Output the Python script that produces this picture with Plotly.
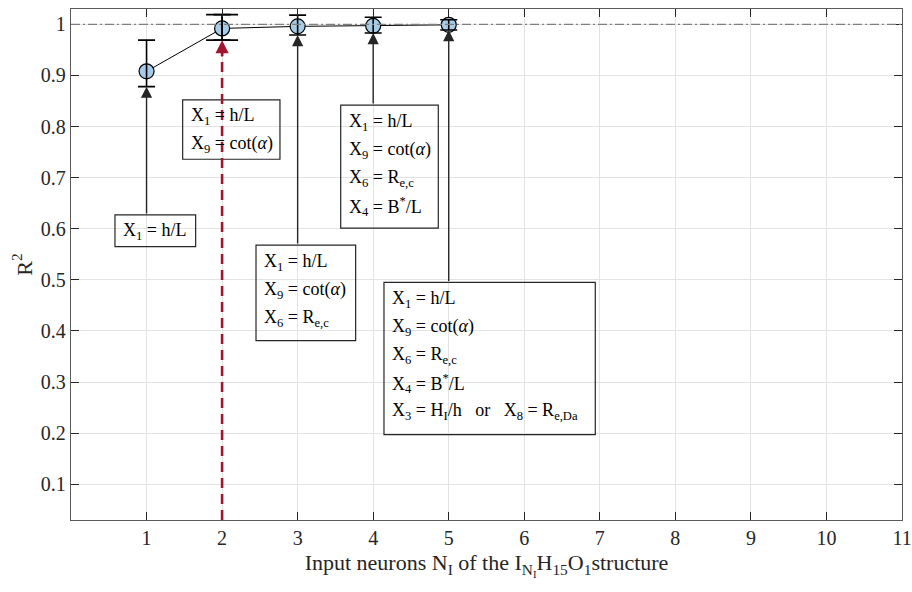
import plotly.graph_objects as go

# ---------------- data ----------------
neurons = [1, 2, 3, 4, 5]
r2_mean = [0.908, 0.992, 0.996, 0.997, 0.999]
err_plus = [0.061, 0.027, 0.022, 0.017, 0.010]
err_minus = [0.030, 0.023, 0.017, 0.014, 0.010]
x_ticks = [1, 2, 3, 4, 5, 6, 7, 8, 9, 10, 11]
y_ticks = [0.1, 0.2, 0.3, 0.4, 0.5, 0.6, 0.7, 0.8, 0.9, 1.0]
y_tick_text = ["0.1", "0.2", "0.3", "0.4", "0.5", "0.6", "0.7", "0.8", "0.9", "1"]

L1 = "X<sub>1</sub> = h/L"
L9 = "X<sub>9</sub> = cot(<i>α</i>)"
L6 = "X<sub>6</sub> = R<sub>e,c</sub>"
L4 = "X<sub>4</sub> = B<sup>*</sup>/L"
L38 = "X<sub>3</sub> = H<sub>I</sub>/h\u00a0\u00a0\u00a0or\u00a0\u00a0\u00a0X<sub>8</sub> = R<sub>e,Da</sub>"
box_lines = [[L1], [L1, L9], [L1, L9, L6], [L1, L9, L6, L4], [L1, L9, L6, L4, L38]]

# ---------------- layout config ----------------
X_RANGE = [0, 11]
Y_RANGE = [0.03, 1.03]
FONT = "Liberation Serif, Times New Roman, serif"
TXT = "#262626"
# box geometry (data coords): x0, x1, top, bottom
boxes = [
    (0.582, 1.650, 0.627, 0.565),
    (1.478, 2.766, 0.852, 0.736),
    (2.449, 3.768, 0.568, 0.381),
    (3.570, 4.862, 0.842, 0.601),
    (4.143, 6.940, 0.495, 0.197),
]
selected = 1  # index of highlighted structure (red arrow)

fig = go.Figure()

# reference line R^2 = 1
fig.add_shape(type="line", xref="x", yref="y", x0=X_RANGE[0], x1=X_RANGE[1], y0=1, y1=1,
              line=dict(color="#7f7f7f", width=1.2, dash="9px,3px,2px,3px"), layer="above")

# mean line with markers
fig.add_trace(go.Scatter(x=neurons, y=r2_mean, mode="lines+markers",
                         line=dict(color="black", width=1),
                         marker=dict(size=15, color="#a5cbe6", line=dict(color="black", width=1.2)),
                         showlegend=False, hoverinfo="skip"))
# error bars on top
fig.add_trace(go.Scatter(x=neurons, y=r2_mean, mode="markers",
                         marker=dict(size=1, opacity=0),
                         error_y=dict(type="data", array=err_plus, arrayminus=err_minus,
                                      color="black", thickness=1.6, width=8.5),
                         showlegend=False, hoverinfo="skip"))
# wider caps for highlighted structure
fig.add_trace(go.Scatter(x=neurons[selected:selected + 1], y=r2_mean[selected:selected + 1], mode="markers",
                         marker=dict(size=1, opacity=0),
                         error_y=dict(type="data", array=err_plus[selected:selected + 1],
                                      arrayminus=err_minus[selected:selected + 1],
                                      color="black", thickness=1.6, width=16),
                         showlegend=False, hoverinfo="skip"))

annotations = []
shapes = []
for i, (bx0, bx1, btop, bbot) in enumerate(boxes):
    shapes.append(dict(type="rect", xref="x", yref="y", x0=bx0, x1=bx1, y0=bbot, y1=btop,
                       line=dict(color=TXT, width=1.2), fillcolor="rgba(0,0,0,0)", layer="above"))
    for j, t in enumerate(box_lines[i]):
        annotations.append(dict(x=bx0, y=btop, xref="x", yref="y", text=t, showarrow=False,
                                xanchor="left", yanchor="middle", xshift=6, yshift=-(17 + 28 * j),
                                font=dict(family=FONT, size=18, color="black")))

# arrows from boxes to points
for i, xv in enumerate(neurons):
    tip = r2_mean[i] - err_minus[i]
    if i == selected:
        continue
    annotations.append(dict(x=xv, y=tip, ax=xv, ay=boxes[i][2], xref="x", yref="y", axref="x", ayref="y",
                            text="", showarrow=True, arrowhead=2, arrowsize=1.6, arrowwidth=1.4,
                            arrowcolor=TXT, standoff=0))

# red dashed arrow for selected structure
xs = neurons[selected]
tip = r2_mean[selected] - err_minus[selected]
shapes.append(dict(type="line", xref="x", yref="y", x0=xs, x1=xs, y0=Y_RANGE[0], y1=tip - 0.02,
                   line=dict(color="#A2142F", width=2.6, dash="10px,6px"), layer="above"))
annotations.append(dict(x=xs, y=tip, ax=xs, ay=tip - 0.035, xref="x", yref="y", axref="x", ayref="y",
                        text="", showarrow=True, arrowhead=2, arrowsize=1.2, arrowwidth=2.2,
                        arrowcolor="#A2142F", standoff=0))

fig.update_layout(
    width=912, height=592,
    margin=dict(l=71, r=10, t=9, b=72, autoexpand=False),
    paper_bgcolor="white", plot_bgcolor="white",
    font=dict(family=FONT, size=18, color=TXT),
    shapes=list(fig.layout.shapes) + shapes,
    annotations=annotations,
    xaxis=dict(range=X_RANGE, tickvals=x_ticks, ticks="inside", ticklen=8, tickcolor=TXT,
               tickwidth=1.2, mirror="ticks", showline=True, linecolor="#5a5a5a", linewidth=1.3,
               showgrid=True, gridcolor="#e3e3e3", gridwidth=1, zeroline=False, automargin=False,
               tickfont=dict(family=FONT, size=20, color=TXT),
               title=dict(text="Input neurons N<sub>I</sub> of the I<sub>N<sub>I</sub></sub>H<sub>15</sub>O<sub>1</sub>structure",
                          font=dict(family=FONT, size=22, color=TXT), standoff=6)),
    yaxis=dict(range=Y_RANGE, tickvals=y_ticks, ticktext=y_tick_text, ticks="inside", ticklen=8,
               tickcolor=TXT, tickwidth=1.2, mirror="ticks", showline=True, linecolor="#5a5a5a",
               linewidth=1.3, showgrid=True, gridcolor="#e3e3e3", gridwidth=1, zeroline=False,
               automargin=False,
               tickfont=dict(family=FONT, size=20, color=TXT),
               title=dict(text="R<sup>2</sup>", font=dict(family=FONT, size=22, color=TXT), standoff=2)),
)

fig.write_html("out.html")
